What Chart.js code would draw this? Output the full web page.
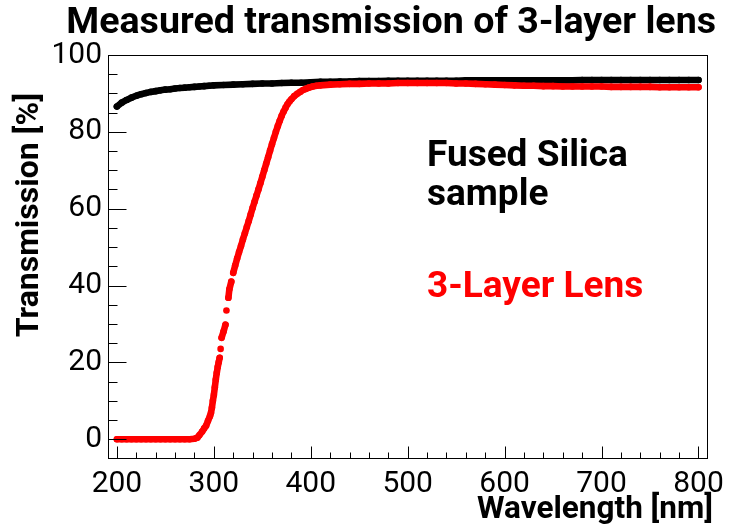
<!DOCTYPE html>
<html><head><meta charset="utf-8">
<script src="https://cdn.jsdelivr.net/npm/chart.js@4/dist/chart.umd.min.js"></script>
<style>html,body{margin:0;padding:0;background:#fff}</style>
</head><body>
<canvas id="c" width="732" height="526"></canvas>
<script>
const titleText = 'Measured transmission of 3-layer lens';
const xTitle = 'Wavelength [nm]';
const yTitle = 'Transmission [%]';
const xTickValues = [200, 300, 400, 500, 600, 700, 800];
const yTickValues = [0, 20, 40, 60, 80, 100];
const silicaLabel = ['Fused Silica', 'sample'];
const lensLabel = '3-Layer Lens';

const silicaWavelength = [200,205,210,215,220,225,230,235,240,245,250,255,260,265,270,275,280,285,290,295,300,
  310,320,330,340,350,360,370,380,390,400,410,420,430,440,450,460,470,480,490,500,
  510,520,530,540,550,560,570,580,590,600,610,620,630,640,650,660,670,680,690,700,
  710,720,730,740,750,760,770,780,790,800];
const silicaTransmission = [86.6,87.6,88.3,88.9,89.4,89.8,90.1,90.4,90.6,90.8,91.0,91.1,91.3,91.4,91.5,91.6,91.7,91.8,91.9,92.0,92.1,
  92.2,92.3,92.4,92.5,92.6,92.6,92.7,92.8,92.8,92.9,93.0,93.0,93.1,93.1,93.2,93.2,93.2,93.3,93.3,93.3,
  93.3,93.3,93.3,93.3,93.3,93.4,93.4,93.4,93.4,93.4,93.4,93.4,93.4,93.4,93.4,93.4,93.4,93.5,93.5,93.5,
  93.5,93.5,93.5,93.5,93.5,93.5,93.5,93.5,93.5,93.5];

const lensWavelength = [200,205,210,215,220,225,230,235,240,245,250,255,260,265,270,275,280,283,285,288,290,292,294,296,297,298,299,300,301,302,303,304,305,306,
  307,308,310,312,313,315,316,318,320,322,324,326,328,330,332,334,336,338,340,342,344,346,348,350,352,354,356,358,360,362,364,366,368,370,372,374,376,378,380,
  383,386,389,392,395,398,402,406,410,420,430,440,450,460,470,480,490,500,510,520,530,540,550,560,570,580,590,600,
  610,620,630,640,650,660,670,680,690,700,710,720,730,740,750,760,770,780,790,800];
const lensTransmission = [0,0,0,0,0,0,0,0,0,0,0,0,0,0,0,0,0.1,0.4,1.0,2.0,2.8,3.5,4.8,6.0,6.8,8.2,10.0,11.5,13.5,15.5,17.2,18.8,20.0,21.2,
  23.5,26.4,28.0,29.8,33.5,36.8,39.0,41.0,43.3,45.2,47.0,48.7,50.3,52.0,53.6,55.2,56.8,58.5,60.2,61.8,63.4,65.0,66.6,68.3,70.0,71.7,73.4,75.1,76.8,78.4,80.0,81.5,82.9,84.2,85.3,86.3,87.2,87.9,88.5,
  89.3,89.9,90.4,90.9,91.2,91.5,91.8,92.0,92.1,92.3,92.4,92.5,92.5,92.6,92.6,92.6,92.7,92.7,92.7,92.7,92.7,92.7,92.6,92.6,92.5,92.4,92.3,92.2,
  92.1,92.0,92.0,91.9,91.9,91.8,91.8,91.8,91.8,91.8,91.7,91.7,91.7,91.7,91.7,91.6,91.6,91.6,91.6,91.6];

const toPoints = (xs, ys) => xs.map((v, i) => ({x: v, y: ys[i]}));
const segColor = (c) => (ctx) => Math.abs(ctx.p1.y - ctx.p0.y) > 8.5 ? 'rgba(0,0,0,0)' : c;

const decor = {
  id: 'decor',
  afterDraw(chart) {
    const {ctx, chartArea: a, scales: {x, y}} = chart;
    ctx.save();
    ctx.strokeStyle = '#000';
    ctx.lineWidth = 1;
    const L = Math.round(a.left) + 0.5, T = Math.round(a.top) + 0.5;
    const R = Math.round(a.right) + 0.5, B = Math.round(a.bottom) + 0.5;
    ctx.strokeRect(L, T, R - L, B - T);
    for (let v = 200; v <= 800; v += 20) {
      const px = Math.round(x.getPixelForValue(v)) + 0.5;
      const len = v % 100 === 0 ? 12 : 6;
      ctx.beginPath(); ctx.moveTo(px, B); ctx.lineTo(px, B - len); ctx.stroke();
    }
    for (let v = 0; v <= 100; v += 5) {
      const py = Math.round(y.getPixelForValue(v)) + 0.5;
      const len = v % 20 === 0 ? 18 : 9;
      ctx.beginPath(); ctx.moveTo(L, py); ctx.lineTo(L + len, py); ctx.stroke();
    }
    ctx.fillStyle = '#000';
    ctx.save();
    ctx.translate(38, 93);
    ctx.rotate(-Math.PI / 2);
    ctx.textAlign = 'right';
    ctx.textBaseline = 'alphabetic';
    ctx.font = 'bold 32px Roboto';
    ctx.fillText(yTitle, 0, 0);
    ctx.restore();
    ctx.textAlign = 'right';
    ctx.textBaseline = 'alphabetic';
    ctx.font = 'bold 31.5px Roboto';
    ctx.fillText(xTitle, 713, 518);
    ctx.textAlign = 'left';
    ctx.font = 'bold 37px Roboto';
    ctx.fillText(silicaLabel[0], a.left + 319, a.top + 111);
    ctx.fillText(silicaLabel[1], a.left + 319, a.top + 150);
    ctx.fillStyle = '#ff0000';
    ctx.fillText(lensLabel, a.left + 319, a.top + 242);
    ctx.restore();
  }
};

new Chart(document.getElementById('c'), {
  type: 'scatter',
  data: {
    datasets: [
      {
        label: lensLabel,
        data: toPoints(lensWavelength, lensTransmission),
        showLine: true,
        borderColor: '#ff0000',
        backgroundColor: '#ff0000',
        borderWidth: 6.6,
        borderCapStyle: 'round',
        borderJoinStyle: 'round',
        pointRadius: 3.3,
        pointBorderWidth: 0,
        pointHoverRadius: 3.3,
        segment: {borderColor: segColor('#ff0000')},
        order: 0
      },
      {
        label: silicaLabel.join(' '),
        data: toPoints(silicaWavelength, silicaTransmission),
        showLine: true,
        borderColor: '#000000',
        backgroundColor: '#000000',
        borderWidth: 6.6,
        borderCapStyle: 'round',
        borderJoinStyle: 'round',
        pointRadius: 3.3,
        pointBorderWidth: 0,
        pointHoverRadius: 3.3,
        order: 1
      }
    ]
  },
  options: {
    responsive: false,
    animation: false,
    devicePixelRatio: 1,
    layout: {padding: {left: 0, right: 16, top: 0, bottom: 0}},
    plugins: {
      legend: {display: false},
      tooltip: {enabled: false},
      title: {
        display: true,
        text: titleText,
        align: 'end',
        color: '#000',
        font: {family: 'Roboto', weight: 'bold', size: 37.6, lineHeight: 1.2},
        padding: {top: 1, bottom: 8.9}
      }
    },
    scales: {
      x: {
        type: 'linear',
        min: 190.8,
        max: 809.2,
        afterBuildTicks: (s) => { s.ticks = xTickValues.map(v => ({value: v})); },
        afterFit: (s) => { s.height = 68; },
        grid: {display: false, drawTicks: false},
        border: {display: false},
        ticks: {color: '#000', font: {family: 'Roboto', size: 30}, padding: 8, maxRotation: 0, autoSkip: false},
        title: {display: false, text: xTitle}
      },
      y: {
        type: 'linear',
        min: -4.9,
        max: 100,
        afterBuildTicks: (s) => { s.ticks = yTickValues.map(v => ({value: v})); },
        afterFit: (s) => { s.width = 108; },
        grid: {display: false, drawTicks: false},
        border: {display: false},
        ticks: {color: '#000', font: {family: 'Roboto', size: 30}, padding: 6, autoSkip: false}
      }
    }
  },
  plugins: [decor]
});
</script>
</body></html>
